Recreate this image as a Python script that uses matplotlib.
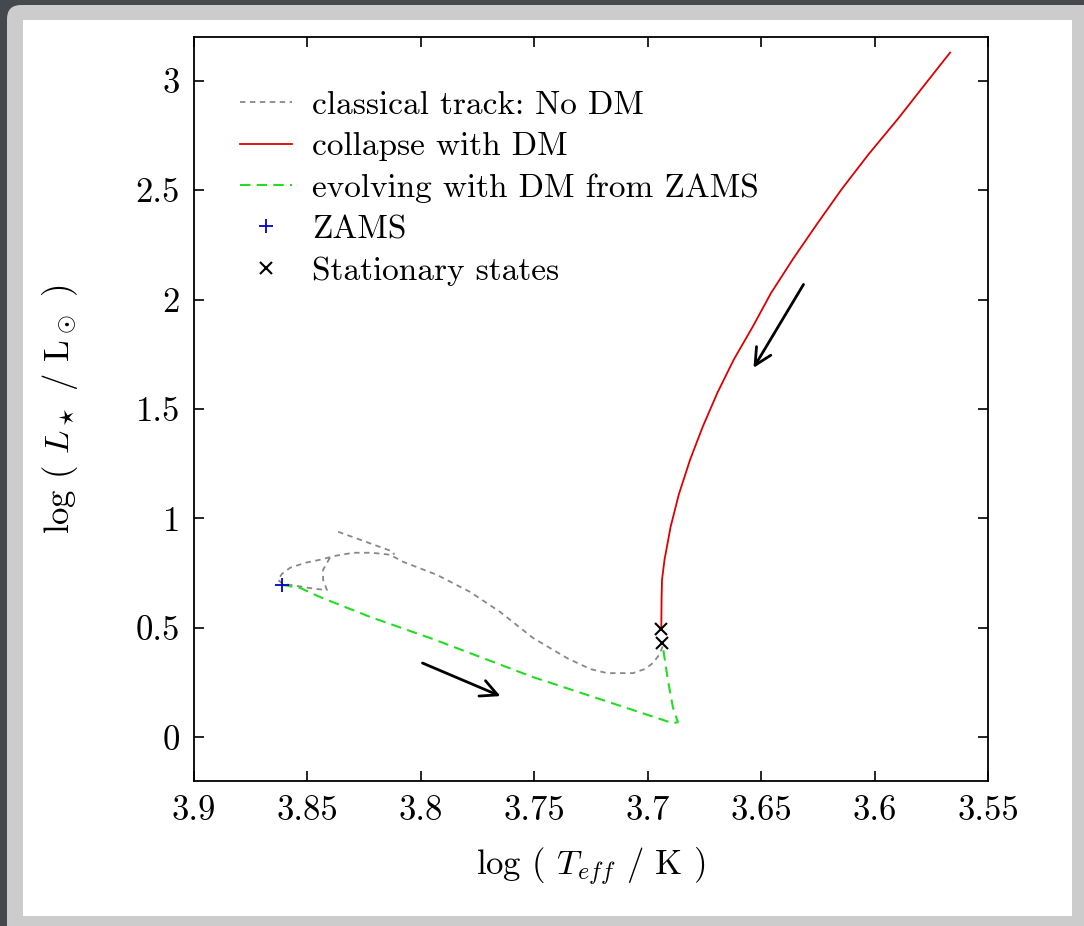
import matplotlib
matplotlib.use("Agg")
import matplotlib.pyplot as plt
from matplotlib.patches import FancyBboxPatch, Rectangle
from matplotlib.transforms import IdentityTransform
import numpy as np

plt.rcParams["font.family"] = "serif"
plt.rcParams["font.serif"] = ["cmr10", "DejaVu Serif"]
plt.rcParams["mathtext.fontset"] = "cm"
plt.rcParams["axes.unicode_minus"] = False

# classical pre-main-sequence track (two pieces, NaN marks the break)
classical_logT = [
    3.8365, 3.8242, 3.8123, 3.8118, np.nan,
    3.8401, 3.8431, 3.8431, 3.8414, 3.8467, 3.8520, 3.8577, 3.8608,
    3.8630, 3.8612, 3.8577, 3.8511, 3.8445, 3.8378, 3.8299, 3.8215,
    3.8136, 3.8079, 3.7929, 3.7783, 3.7651, 3.7506, 3.7356, 3.7254,
    3.7179, 3.7065, 3.7012, 3.6977, 3.6950, 3.6933,
]
classical_logL = [
    0.939, 0.893, 0.848, 0.834, np.nan,
    0.820, 0.765, 0.719, 0.673, 0.678, 0.687, 0.696, 0.701,
    0.719, 0.747, 0.774, 0.797, 0.811, 0.829, 0.843, 0.843,
    0.834, 0.802, 0.742, 0.664, 0.573, 0.454, 0.362, 0.312,
    0.293, 0.293, 0.312, 0.339, 0.376, 0.417,
]

# collapse with dark matter
collapse_logT = [3.5667, 3.5782, 3.5897, 3.6025, 3.6144, 3.6254, 3.6360,
                 3.6457, 3.6536, 3.6620, 3.6692, 3.6757, 3.6813, 3.6863,
                 3.6899, 3.6926, 3.6937, 3.6939, 3.6940, 3.6940]
collapse_logL = [3.129, 2.978, 2.826, 2.666, 2.506, 2.345, 2.185,
                 2.029, 1.878, 1.727, 1.576, 1.420, 1.269, 1.109,
                 0.962, 0.811, 0.719, 0.628, 0.504, 0.495]

# evolution with dark matter starting at the ZAMS
evolve_logT = [3.8612, 3.8533, 3.8445, 3.8224, 3.7947, 3.7506, 3.7210, 3.6889,
               3.6867, 3.6889, 3.6911, 3.6933, 3.6937]
evolve_logL = [0.696, 0.683, 0.641, 0.550, 0.449, 0.275, 0.174, 0.064,
               0.069, 0.137, 0.261, 0.412, 0.431]

zams_logT = [3.8612]
zams_logL = [0.696]

stationary_logT = [3.6940, 3.6937]
stationary_logL = [0.495, 0.431]

xticks = [3.9, 3.85, 3.8, 3.75, 3.7, 3.65, 3.6, 3.55]
yticks = [0, 0.5, 1, 1.5, 2, 2.5, 3]

W, H = 1084, 926
fig = plt.figure(figsize=(W / 100, H / 100), dpi=100)
fig.patch.set_facecolor("#45484d")

# window-style frame around the plot
frame = FancyBboxPatch((7, -30), W + 30, H - 5 + 30,
                       boxstyle="round,pad=0,rounding_size=14",
                       transform=IdentityTransform(), facecolor="#cccccc",
                       edgecolor="none", zorder=-3)
fig.patches.append(frame)
panel = Rectangle((23, H - 916), 1072 - 23, 916 - 20,
                  transform=IdentityTransform(), facecolor="white",
                  edgecolor="none", zorder=-2)
fig.patches.append(panel)

ax = fig.add_axes([194 / W, 1 - 781 / H, (988 - 194) / W, (781 - 37) / H])
ax.set_facecolor("none")

ax.plot(classical_logT, classical_logL, color="#888888", lw=1.3,
        linestyle=(0, (3, 2.5)), label="classical track: No DM")
ax.plot(collapse_logT, collapse_logL, color="#dd0000", lw=1.3,
        label="collapse with DM")
ax.plot(evolve_logT, evolve_logL, color="#22dd22", lw=1.5,
        linestyle=(0, (5, 3)), label="evolving with DM from ZAMS")
ax.plot(zams_logT, zams_logL, linestyle="none", marker="+", color="#0000cc",
        markersize=10, mew=1.3, label="ZAMS")
ax.plot(stationary_logT, stationary_logL, linestyle="none", marker="x",
        color="black", markersize=9, mew=1.5, label="Stationary states")

# direction of evolution
ax.annotate("", xy=(3.7638, 0.183), xytext=(3.8004, 0.344),
            arrowprops=dict(arrowstyle="->", lw=2, color="black", mutation_scale=30))
ax.annotate("", xy=(3.6540, 1.677), xytext=(3.6307, 2.080),
            arrowprops=dict(arrowstyle="->", lw=2, color="black", mutation_scale=30))

ax.set_xlim(3.9, 3.55)
ax.set_ylim(-0.2, 3.2)
ax.set_xticks(xticks)
ax.set_xticklabels(["%g" % t for t in xticks])
ax.set_yticks(yticks)
ax.set_yticklabels(["%g" % t for t in yticks])
ax.tick_params(direction="in", length=7, width=1.2, top=True, right=True,
               labelsize=25, pad=10)
for s in ax.spines.values():
    s.set_linewidth(1.3)

ax.set_xlabel(r"log ( $T_{eff}$ / K )", fontsize=25, labelpad=14)
ax.set_ylabel(r"log ( $L_\star$ / L$_\odot$ )", fontsize=25, labelpad=40)

ax.legend(loc="upper left", bbox_to_anchor=(0.041, 0.946), frameon=False,
          fontsize=24, handlelength=1.56, handletextpad=0.6,
          labelspacing=0.36, numpoints=1, borderaxespad=0)

fig.savefig("out.png", dpi=100, facecolor=fig.get_facecolor())
